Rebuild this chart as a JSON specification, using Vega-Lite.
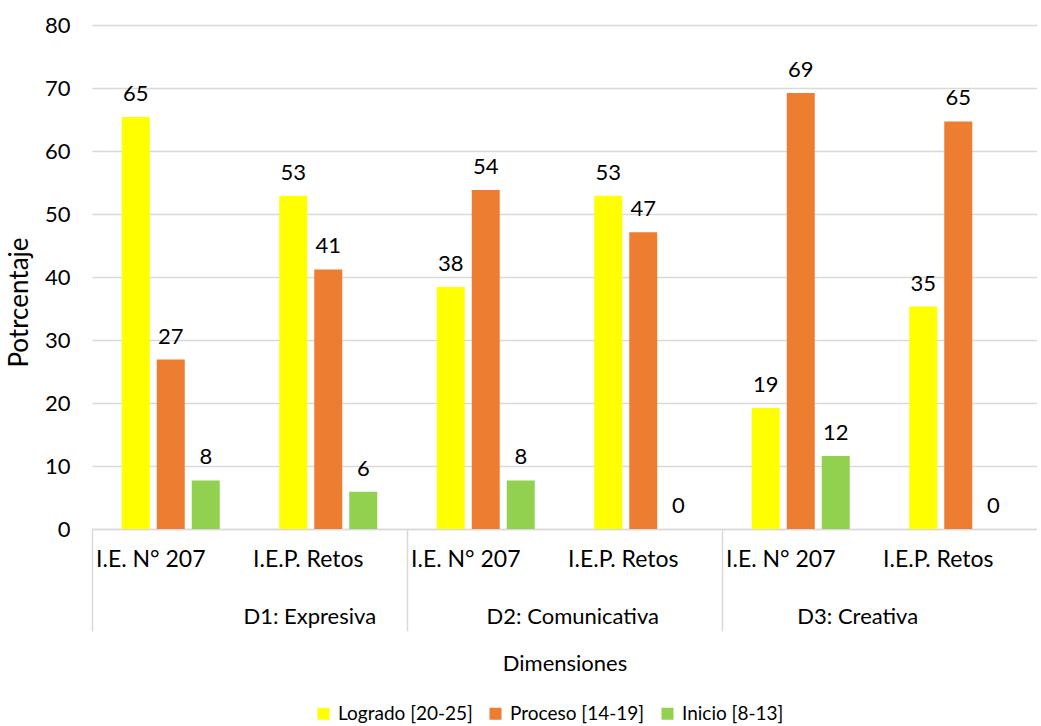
{
  "$schema": "https://vega.github.io/schema/vega-lite/v6.json",
  "width": 945,
  "height": 504,
  "padding": {"left": 6, "top": 14, "right": 0, "bottom": 0},
  "config": {
    "font": "Lato",
    "view": {"stroke": null},
    "axis": {"labelColor": "#000000", "titleColor": "#000000", "titleFontWeight": "normal", "labelFontSize": 22, "titleFontSize": 22}
  },
  "data": {
    "values": [
      {"key": "D1: Expresiva|I.E. N° 207", "serie": "Logrado [20-25]", "valor": 65.4},
      {"key": "D1: Expresiva|I.E. N° 207", "serie": "Proceso [14-19]", "valor": 26.9},
      {"key": "D1: Expresiva|I.E. N° 207", "serie": "Inicio [8-13]", "valor": 7.7},
      {"key": "D1: Expresiva|I.E.P. Retos", "serie": "Logrado [20-25]", "valor": 52.9},
      {"key": "D1: Expresiva|I.E.P. Retos", "serie": "Proceso [14-19]", "valor": 41.2},
      {"key": "D1: Expresiva|I.E.P. Retos", "serie": "Inicio [8-13]", "valor": 5.9},
      {"key": "D2: Comunicativa|I.E. N° 207", "serie": "Logrado [20-25]", "valor": 38.4},
      {"key": "D2: Comunicativa|I.E. N° 207", "serie": "Proceso [14-19]", "valor": 53.8},
      {"key": "D2: Comunicativa|I.E. N° 207", "serie": "Inicio [8-13]", "valor": 7.7},
      {"key": "D2: Comunicativa|I.E.P. Retos", "serie": "Logrado [20-25]", "valor": 52.9},
      {"key": "D2: Comunicativa|I.E.P. Retos", "serie": "Proceso [14-19]", "valor": 47.1},
      {"key": "D2: Comunicativa|I.E.P. Retos", "serie": "Inicio [8-13]", "valor": 0},
      {"key": "D3: Creativa|I.E. N° 207", "serie": "Logrado [20-25]", "valor": 19.2},
      {"key": "D3: Creativa|I.E. N° 207", "serie": "Proceso [14-19]", "valor": 69.2},
      {"key": "D3: Creativa|I.E. N° 207", "serie": "Inicio [8-13]", "valor": 11.6},
      {"key": "D3: Creativa|I.E.P. Retos", "serie": "Logrado [20-25]", "valor": 35.3},
      {"key": "D3: Creativa|I.E.P. Retos", "serie": "Proceso [14-19]", "valor": 64.7},
      {"key": "D3: Creativa|I.E.P. Retos", "serie": "Inicio [8-13]", "valor": 0}
    ]
  },
  "encoding": {
    "xOffset": {"field": "serie", "type": "nominal", "sort": ["Logrado [20-25]", "Proceso [14-19]", "Inicio [8-13]"], "scale": {"paddingInner": 0.2, "paddingOuter": 0.85}},
    "y": {
      "field": "valor", "type": "quantitative",
      "scale": {"domain": [0, 80]},
      "axis": {"values": [0, 10, 20, 30, 40, 50, 60, 70, 80], "domain": false, "ticks": false, "labelPadding": 22, "gridColor": "#D9D9D9", "gridWidth": 1.5, "title": "Potrcentaje", "titleFontSize": 26, "titlePadding": 12, "titleY": 277}
    }
  },
  "layer": [
    {
      "mark": {"type": "bar"},
      "encoding": {
        "x": {
          "field": "key", "type": "nominal", "sort": null,
          "scale": {"paddingInner": 0, "paddingOuter": 0},
          "axis": {"orient": "bottom", "title": null, "labelAngle": 0, "labelExpr": "split(datum.value, '|')[1]", "ticks": false, "domainColor": "#D9D9D9", "domainWidth": 1.5, "labelPadding": 19, "labelOffset": -20, "labelBaseline": "top", "labelFontSize": 23}
        },
        "color": {
          "field": "serie", "type": "nominal",
          "sort": ["Logrado [20-25]", "Proceso [14-19]", "Inicio [8-13]"],
          "scale": {"domain": ["Logrado [20-25]", "Proceso [14-19]", "Inicio [8-13]"], "range": ["#FFFF00", "#ED7D31", "#92D050"]},
          "legend": {"orient": "none", "legendX": 222, "legendY": 679, "padding": 0, "direction": "horizontal", "title": null, "symbolType": "square", "symbolSize": 144, "symbolStrokeWidth": 0, "labelFontSize": 19, "labelColor": "#000000", "columnPadding": 13, "labelOffset": 5}
        }
      }
    },
    {
      "mark": {"type": "text", "baseline": "alphabetic", "dy": -16, "fontSize": 22, "color": "#000000"},
      "encoding": {
        "x": {
          "field": "key", "type": "nominal", "sort": null,
          "scale": {"paddingInner": 0, "paddingOuter": 0},
          "axis": {
            "orient": "bottom", "title": "Dimensiones", "titlePadding": 22, "labelAngle": 0,
            "values": ["D1: Expresiva|I.E. N° 207", "D2: Comunicativa|I.E. N° 207", "D3: Creativa|I.E. N° 207"],
            "bandPosition": 0, "labelExpr": "split(datum.value, '|')[0]",
            "tickSize": 102, "tickColor": "#D9D9D9", "tickWidth": 1.5, "domain": false,
            "labelPadding": -25, "labelBaseline": "top", "labelFontSize": 22,
            "labelOffset": {"condition": [{"test": "indexof(datum.value, 'D1') == 0", "value": 139}, {"test": "indexof(datum.value, 'D2') == 0", "value": 87}], "value": 57}
          }
        },
        "text": {"field": "valor", "type": "quantitative", "format": ".0f"}
      }
    }
  ],
  "resolve": {"axis": {"x": "independent"}}
}
